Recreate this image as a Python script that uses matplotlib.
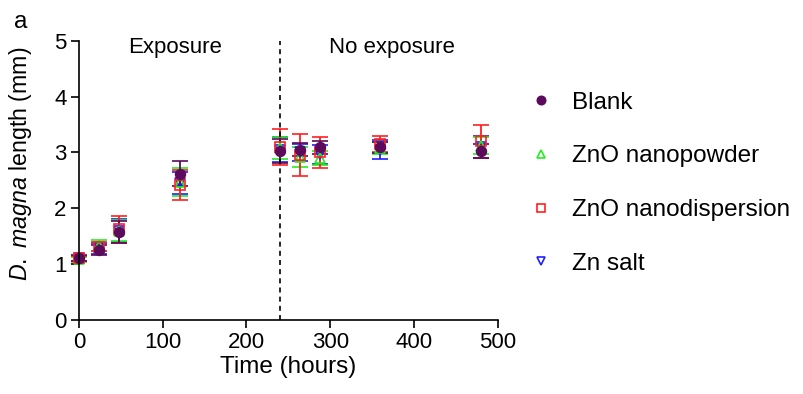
import numpy as np
import matplotlib
matplotlib.use("Agg")
import matplotlib.pyplot as plt
from matplotlib.lines import Line2D

plt.rcParams["font.family"] = ["Liberation Sans", "DejaVu Sans"]
plt.rcParams["mathtext.fontset"] = "custom"
plt.rcParams["mathtext.it"] = "Liberation Sans:italic"
plt.rcParams["mathtext.rm"] = "Liberation Sans"

# time points (hours)
hours = [0, 24, 48, 120, 240, 264, 288, 360, 480]

# mean lengths (mm) and SD
blank = [1.11, 1.25, 1.57, 2.62, 3.03, 3.05, 3.09, 3.09, 3.03]
blank_sd = [0.05, 0.09, 0.20, 0.22, 0.22, 0.12, 0.12, 0.10, 0.13]

powder = [1.08, 1.33, 1.60, 2.47, 3.08, 2.92, 2.90, 3.08, 3.12]
powder_sd = [0.05, 0.10, 0.18, 0.25, 0.20, 0.18, 0.12, 0.10, 0.15]

dispersion = [1.10, 1.31, 1.62, 2.41, 3.10, 2.96, 3.00, 3.15, 3.20]
dispersion_sd = [0.05, 0.08, 0.24, 0.27, 0.32, 0.38, 0.28, 0.15, 0.30]

salt = [1.10, 1.28, 1.60, 2.45, 3.05, 3.00, 2.97, 3.05, 3.10]
salt_sd = [0.05, 0.10, 0.20, 0.20, 0.22, 0.15, 0.17, 0.17, 0.20]

labels = ["Blank", "ZnO nanopowder", "ZnO nanodispersion", "Zn salt"]
colors = ["#5c0a5c", "#22ee22", "#ff2020", "#2020ff"]
markers = ["o", "^", "s", "v"]

fig = plt.figure(figsize=(8.04, 3.94), dpi=100)
ax = fig.add_axes([0.0983, 0.1886, 0.5207, 0.7074])

common = dict(linestyle="none", capsize=6, elinewidth=1.3, capthick=1.3,
              markeredgewidth=1.2, clip_on=False)

ax.errorbar(hours, salt, yerr=salt_sd, color=colors[3], marker="v",
            markersize=7, markerfacecolor="none", **common)
ax.errorbar(hours, powder, yerr=powder_sd, color=colors[1], marker="^",
            markersize=7, markerfacecolor="none", **common)
ax.errorbar(hours, dispersion, yerr=dispersion_sd, color=colors[2], marker="s",
            markersize=7, markerfacecolor="none", **common)
ax.errorbar(hours, blank, yerr=blank_sd, color=colors[0], marker="o",
            markersize=7, **common)

ax.axvline(240, color="black", linestyle=(0, (3, 2.5)), linewidth=1.2)

ax.text(115, 4.88, "Exposure", ha="center", va="center", fontsize=16)
ax.text(374, 4.88, "No exposure", ha="center", va="center", fontsize=16)

ax.set_xlim(0, 500)
ax.set_ylim(0, 5)
ax.set_xticks([0, 100, 200, 300, 400, 500])
ax.set_yticks([0, 1, 2, 3, 4, 5])
for side in ["top", "right"]:
    ax.spines[side].set_visible(False)
for side in ["left", "bottom"]:
    ax.spines[side].set_linewidth(1.2)
ax.tick_params(direction="out", length=6, width=1.2, labelsize=16, pad=3)

ax.set_xlabel("Time (hours)", fontsize=17.5, labelpad=2)
ax.set_ylabel(r"$\it{D.\ magna}$ length (mm)", fontsize=16.7)
ax.yaxis.set_label_coords(-0.108, 0.559)

handles = []
for c, m in zip(colors, markers):
    face = c if m == "o" else "none"
    handles.append(Line2D([], [], linestyle="none", marker=m, color=c,
                          markerfacecolor=face, markersize=6, markeredgewidth=1.2))

fig.legend(handles, labels, loc="upper left", bbox_to_anchor=(0.643, 0.81),
           frameon=False, fontsize=17.5, handlelength=0.6,
           handletextpad=0.95, labelspacing=1.3, borderpad=0.2)

fig.text(0.018, 0.945, "a", fontsize=17.5, va="center")

fig.savefig("out.png", dpi=100)
